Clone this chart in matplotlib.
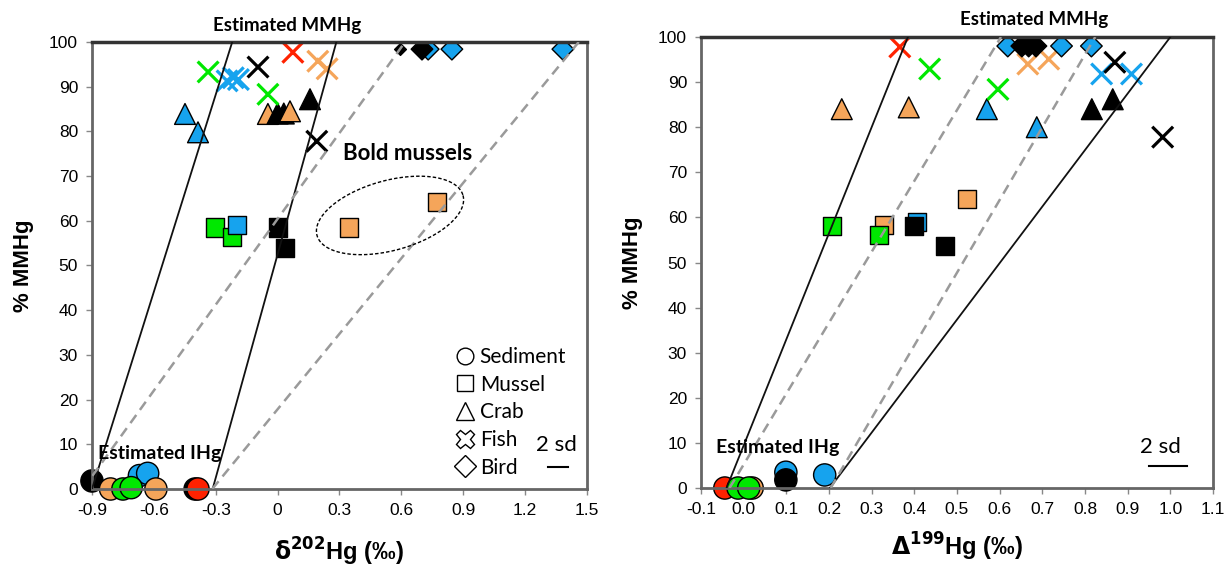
import numpy as np
import matplotlib.pyplot as plt
from matplotlib.lines import Line2D

# site colours
site_colors = {'K': '#000000', 'O': '#f5a55a', 'G': '#00e800', 'B': '#16a3ee', 'R': '#ff2200'}

# ---------------- d202Hg panel ----------------
l_sed_x = [-0.40, -0.9, -0.67, -0.63, -0.81, -0.59, -0.75, -0.71, -0.386]
l_sed_y = [0, 1.8, 3, 3.5, 0, 0, 0, 0.3, 0]
l_sed_s = ['K', 'K', 'B', 'B', 'O', 'O', 'G', 'G', 'R']

l_mus_x = [-0.304, -0.221, -0.197, 0.002, 0.036, 0.346, 0.772]
l_mus_y = [58.5, 56.3, 59, 58.5, 54, 58.5, 64.3]
l_mus_s = ['G', 'G', 'B', 'K', 'K', 'O', 'O']

l_crab_x = [-0.449, -0.386, -0.047, 0.0, 0.03, 0.06, 0.157]
l_crab_y = [83.9, 79.8, 83.9, 84.0, 84.0, 84.5, 87.2]
l_crab_s = ['B', 'B', 'O', 'K', 'K', 'O', 'K']

l_fish_x = [-0.337, -0.245, -0.215, -0.19, -0.095, -0.047, 0.074, 0.195, 0.24, 0.19]
l_fish_y = [93.3, 91.3, 92.0, 91.6, 94.4, 88.3, 97.7, 95.7, 94.0, 77.8]
l_fish_s = ['G', 'B', 'B', 'B', 'K', 'G', 'R', 'O', 'O', 'K']

l_bird_x = [0.73, 0.70, 0.845, 1.383]
l_bird_y = [98.4, 98.4, 98.4, 98.4]
l_bird_s = ['B', 'K', 'B', 'B']
l_bird_small_x = [0.593]
l_bird_small_y = [98.4]

l_solid = [(-0.9, 0, -0.22, 100), (-0.315, 0, 0.285, 100)]
l_dashed = [(-0.944, 0, 0.618, 100), (-0.317, 0, 1.46, 100)]

l_xticks = [-0.9, -0.6, -0.3, 0, 0.3, 0.6, 0.9, 1.2, 1.5]
l_xticklabels = ['-0.9', '-0.6', '-0.3', '0', '0.3', '0.6', '0.9', '1.2', '1.5']

# ---------------- D199Hg panel ----------------
r_sed_x = [-0.044, 0.02, -0.013, 0.012, 0.099, 0.099, 0.19]
r_sed_y = [0, 0, 0, 0, 3.5, 1.8, 2.9]
r_sed_s = ['R', 'O', 'G', 'G', 'B', 'K', 'B']

r_mus_x = [0.207, 0.329, 0.317, 0.406, 0.399, 0.471, 0.523]
r_mus_y = [58.2, 58.4, 56.2, 58.9, 58.2, 53.6, 64.0]
r_mus_s = ['G', 'O', 'G', 'B', 'K', 'K', 'O']

r_crab_x = [0.230, 0.387, 0.570, 0.687, 0.816, 0.865]
r_crab_y = [84.0, 84.4, 84.0, 80.0, 84.0, 86.2]
r_crab_s = ['O', 'O', 'B', 'B', 'K', 'K']

r_fish_x = [0.366, 0.436, 0.596, 0.666, 0.715, 0.839, 0.870, 0.909, 0.982]
r_fish_y = [97.8, 92.9, 88.4, 94.0, 95.1, 91.8, 94.4, 91.8, 77.8]
r_fish_s = ['R', 'G', 'G', 'O', 'O', 'B', 'K', 'B', 'K']

r_bird_x = [0.619, 0.745, 0.815, 0.652, 0.668, 0.685]
r_bird_y = [98.0, 98.0, 98.0, 98.0, 98.0, 98.0]
r_bird_s = ['B', 'B', 'B', 'K', 'K', 'K']

r_solid = [(-0.04, 0, 0.385, 100), (0.202, 0, 1.0, 100)]
r_dashed = [(-0.033, 0, 0.603, 100), (0.204, 0, 0.824, 100)]

r_xticks = [-0.1, 0.0, 0.1, 0.2, 0.3, 0.4, 0.5, 0.6, 0.7, 0.8, 0.9, 1.0, 1.1]
r_xticklabels = ['-0.1', '0.0', '0.1', '0.2', '0.3', '0.4', '0.5', '0.6', '0.7', '0.8', '0.9', '1.0', '1.1']

yticks = [0, 10, 20, 30, 40, 50, 60, 70, 80, 90, 100]

legend_names = ['Sediment', 'Mussel', 'Crab', 'Fish', 'Bird']

ann_font = 'Lato'
plt.rcParams['font.family'] = 'Liberation Sans'


def cols(sites):
	return [site_colors[s] for s in sites]


def draw_panel(ax, sed, mus, crab, fish, bird, solid, dashed):
	ax.scatter(sed[0], sed[1], s=16**2, c=cols(sed[2]), edgecolors='k', linewidths=1, marker='o', zorder=2, clip_on=False)
	ax.scatter(mus[0], mus[1], s=13**2, c=cols(mus[2]), edgecolors='k', linewidths=1, marker='s', zorder=2)
	ax.scatter(crab[0], crab[1], s=15**2, c=cols(crab[2]), edgecolors='k', linewidths=1, marker='^', zorder=2)
	ax.scatter(fish[0], fish[1], s=15**2, c=cols(fish[2]), linewidths=2.3, marker='x', zorder=2)
	ax.scatter(bird[0], bird[1], s=11**2, c=cols(bird[2]), edgecolors='k', linewidths=1, marker='D', zorder=2)
	for x0, y0, x1, y1 in solid:
		ax.plot([x0, x1], [y0, y1], '-', color='#111111', lw=1.3, zorder=3)
	for x0, y0, x1, y1 in dashed:
		ax.plot([x0, x1], [y0, y1], '--', color='#9a9a9a', lw=1.8, dashes=(4, 2.5), zorder=3)


def formatplot(ax, xticks, xticklabels, xlabel, xlim, xpad):
	ax.set_xlim(xlim)
	ax.set_ylim(0, 100)
	ax.set_xticks(xticks)
	ax.set_xticklabels(xticklabels)
	ax.set_yticks(yticks)
	ax.tick_params(which='major', length=4, width=1, color='#888888', labelsize=12.5, pad=6)
	for side in ['bottom', 'left', 'right']:
		ax.spines[side].set_linewidth(2)
		ax.spines[side].set_color('#666666')
	ax.spines['top'].set_linewidth(2.5)
	ax.spines['top'].set_color('#333333')
	ax.set_ylabel('% MMHg', fontsize=16, fontweight='bold', labelpad=11)
	ax.set_xlabel(xlabel, fontsize=17, fontweight='bold', labelpad=xpad)


fig = plt.figure(figsize=(12.28, 5.73), dpi=100)
ax1 = fig.add_axes([0.0749, 0.1466, 0.4031, 0.7801])
ax2 = fig.add_axes([0.5708, 0.1483, 0.4170, 0.7871])

# left
draw_panel(ax1, (l_sed_x, l_sed_y, l_sed_s), (l_mus_x, l_mus_y, l_mus_s), (l_crab_x, l_crab_y, l_crab_s),
	(l_fish_x, l_fish_y, l_fish_s), (l_bird_x, l_bird_y, l_bird_s), l_solid, l_dashed)
ax1.scatter(l_bird_small_x, l_bird_small_y, s=6**2, c='k', marker='D', zorder=2)
formatplot(ax1, l_xticks, l_xticklabels, r'$\mathbf{\delta^{202}}$Hg (‰)', (-0.9, 1.5), 13)

# bold mussels ellipse
t = np.linspace(0, 2 * np.pi, 200)
ex = 0.545 + 0.354 * np.cos(t) + 0.045 * np.sin(t)
ey = 61.2 + 4.48 * np.cos(t) - 7.55 * np.sin(t)
ax1.plot(ex, ey, color='k', lw=1, ls=(0, (2.5, 1.5)), zorder=3)
ax1.text(0.317, 75, 'Bold mussels', fontsize=16, fontweight='bold', family=ann_font, va='center')

ax1.text(0.045, 103.6, 'Estimated MMHg', fontsize=13.5, fontweight='bold', family=ann_font, ha='center', va='center', clip_on=False)
ax1.text(-0.57, 8.0, 'Estimated IHg', fontsize=14, fontweight='bold', family=ann_font, ha='center', va='center')
ax1.text(1.354, 9.9, '2 sd', fontsize=16, family=ann_font, ha='center', va='center')
ax1.plot([1.31, 1.41], [4.9, 4.9], 'k-', lw=1.5)

handles = [Line2D([], [], ls='none', marker='o', ms=12, mfc='white', mec='k', mew=1),
	Line2D([], [], ls='none', marker='s', ms=12, mfc='white', mec='k', mew=1),
	Line2D([], [], ls='none', marker='^', ms=13, mfc='white', mec='k', mew=1),
	Line2D([], [], ls='none', marker='X', ms=13, mfc='white', mec='k', mew=1),
	Line2D([], [], ls='none', marker='D', ms=11, mfc='white', mec='k', mew=1)]
leg = ax1.legend(handles, legend_names, loc='upper left', bbox_to_anchor=(0.735, 0.318), frameon=False,
	handlelength=0.9, handletextpad=0.25, labelspacing=0.37, borderpad=0, borderaxespad=0,
	prop={'family': ann_font, 'size': 15})

# right
draw_panel(ax2, (r_sed_x, r_sed_y, r_sed_s), (r_mus_x, r_mus_y, r_mus_s), (r_crab_x, r_crab_y, r_crab_s),
	(r_fish_x, r_fish_y, r_fish_s), (r_bird_x, r_bird_y, r_bird_s), r_solid, r_dashed)
formatplot(ax2, r_xticks, r_xticklabels, r'$\mathbf{\Delta^{199}}$Hg (‰)', (-0.1, 1.1), 10)
ax2.text(0.68, 103.8, 'Estimated MMHg', fontsize=13.5, fontweight='bold', family=ann_font, ha='center', va='center', clip_on=False)
ax2.text(0.08, 8.9, 'Estimated IHg', fontsize=14, fontweight='bold', family=ann_font, ha='center', va='center')
ax2.text(0.977, 9.1, '2 sd', fontsize=16, family=ann_font, ha='center', va='center')
ax2.plot([0.95, 1.04], [4.9, 4.9], 'k-', lw=1.5)

fig.savefig('out.png', dpi=100)
